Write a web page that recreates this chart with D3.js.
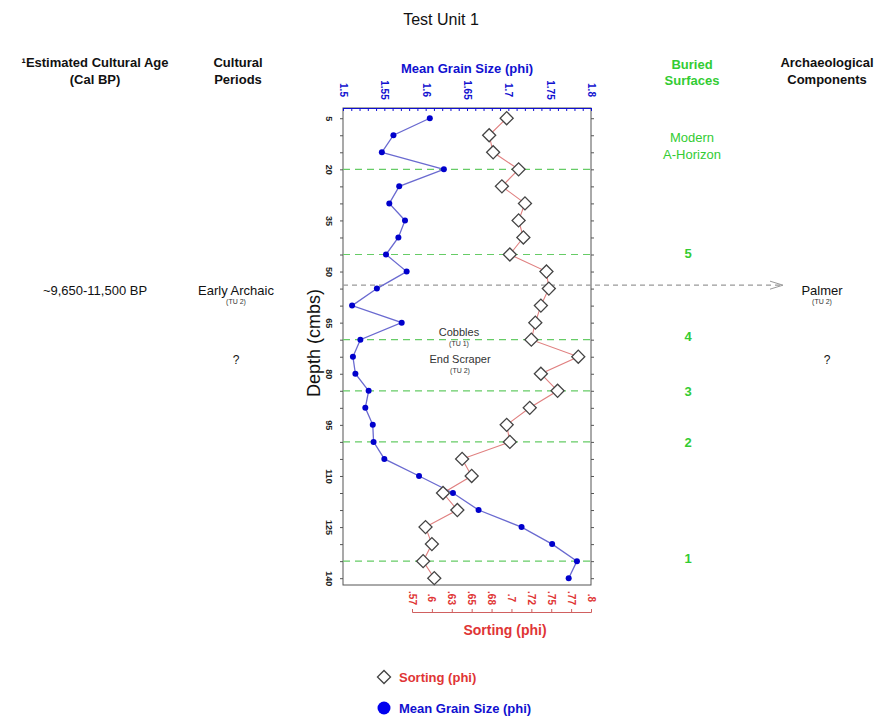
<!DOCTYPE html>
<html>
<head>
<meta charset="utf-8">
<script src="https://cdn.jsdelivr.net/npm/d3@7"></script>
<style>
  body { margin: 0; background: #fff; }
  svg { font-family: "Liberation Sans", Arial, sans-serif; }
</style>
</head>
<body>
<div id="chart"></div>
<script>
// depth of each sample (cmbs)
var depths = [5, 10, 15, 20, 25, 30, 35, 40, 45, 50, 55, 60, 65, 70,
              75, 80, 85, 90, 95, 100, 105, 110, 115, 120, 125, 130, 135, 140];
// mean grain size (phi)
var meanGrain = [1.605, 1.561, 1.547, 1.622, 1.568, 1.556, 1.575, 1.567, 1.552, 1.577, 1.541, 1.511, 1.571, 1.521,
                 1.512, 1.515, 1.531, 1.527, 1.536, 1.537, 1.550, 1.592, 1.633, 1.664, 1.716, 1.753, 1.783, 1.773];
// sorting (phi)
var sorting = [0.694, 0.672, 0.677, 0.709, 0.688, 0.717, 0.709, 0.715, 0.698, 0.744, 0.747, 0.737, 0.730, 0.725,
               0.784, 0.737, 0.758, 0.723, 0.694, 0.698, 0.638, 0.650, 0.614, 0.632, 0.592, 0.600, 0.589, 0.603];

var meanTicks = [1.5, 1.55, 1.6, 1.65, 1.7, 1.75, 1.8];
var meanTickLabels = ["1.5", "1.55", "1.6", "1.65", "1.7", "1.75", "1.8"];
var sortTicks = [0.575, 0.6, 0.625, 0.65, 0.675, 0.7, 0.725, 0.75, 0.775, 0.8];
var sortTickLabels = [".57", ".6", ".63", ".65", ".68", ".7", ".72", ".75", ".77", ".8"];
var depthTicks = [5, 20, 35, 50, 65, 80, 95, 110, 125, 140];

// buried surfaces (depth of dashed line, label)
var surfaceDepths = [20, 45, 70, 85, 100, 135];
var surfaceLabels = ["5", "4", "3", "2", "1"];
var surfaceLabelDepths = [45.5, 70, 86, 101, 135];
var componentDepth = 54;

var W = 882, H = 717;
var blue = "#1010d0", red = "#e03535", green = "#33cc33";

var svg = d3.select("#chart").append("svg")
    .attr("width", W).attr("height", H);

var y = d3.scaleLinear().domain([2, 142]).range([108, 585]);
var xMean = d3.scaleLinear().domain([1.5, 1.8]).range([343, 591]);
var xSort = d3.scaleLinear().domain([0.575, 0.8]).range([412, 591]);

// frame
svg.append("rect")
    .attr("x", 343).attr("y", 108)
    .attr("width", 248).attr("height", 477)
    .attr("fill", "none").attr("stroke", "#555").attr("stroke-width", 1);

// top axis (mean grain size)
var topMinor = svg.append("g")
    .attr("transform", "translate(0,108)")
    .call(d3.axisBottom(xMean).ticks(30).tickSize(3).tickFormat(""));
topMinor.select(".domain").attr("stroke", blue);
topMinor.selectAll(".tick line").attr("stroke", blue);

var topAxis = svg.append("g")
    .attr("transform", "translate(0,108)")
    .call(d3.axisTop(xMean).tickValues(meanTicks).tickSize(0)
        .tickFormat((d, i) => meanTickLabels[i]));
topAxis.select(".domain").remove();
topAxis.selectAll("text")
    .attr("transform", "rotate(90)")
    .attr("x", -18).attr("y", 0).attr("dy", "0.35em")
    .style("text-anchor", "middle")
    .attr("fill", blue).attr("font-weight", "bold").attr("font-size", 10);

// left axis (depth)
var leftMinor = svg.append("g")
    .attr("transform", "translate(343,0)")
    .call(d3.axisLeft(y).tickValues(depths).tickSize(3).tickFormat(""));
leftMinor.select(".domain").remove();
leftMinor.selectAll(".tick line").attr("stroke", "#555");

var leftAxis = svg.append("g")
    .attr("transform", "translate(343,0)")
    .call(d3.axisLeft(y).tickValues(depthTicks).tickSize(0));
leftAxis.select(".domain").remove();
leftAxis.selectAll("text")
    .attr("transform", "rotate(90)")
    .attr("x", 0).attr("y", 14).attr("dy", "0.35em")
    .style("text-anchor", "middle")
    .attr("fill", "#222").attr("font-weight", "bold").attr("font-size", 9);

// right side ticks
var rightMinor = svg.append("g")
    .attr("transform", "translate(591,0)")
    .call(d3.axisRight(y).tickValues(depths).tickSize(3).tickFormat(""));
rightMinor.select(".domain").remove();
rightMinor.selectAll(".tick line").attr("stroke", "#555");

// bottom axis (sorting)
var bottomAxis = svg.append("g")
    .attr("transform", "translate(0,612)")
    .call(d3.axisTop(xSort).tickValues(sortTicks).tickSize(3).tickFormat(""));
bottomAxis.select(".domain").attr("stroke", "#d06060");
bottomAxis.selectAll(".tick line").attr("stroke", "#d06060");

svg.append("g").selectAll("text")
    .data(sortTicks)
    .enter().append("text")
    .attr("transform", (d) => "translate(" + xSort(d) + ",598) rotate(90)")
    .attr("dy", "0.35em")
    .attr("text-anchor", "middle")
    .attr("fill", red).attr("font-weight", "bold").attr("font-size", 10)
    .text((d, i) => sortTickLabels[i]);

// buried surface lines
svg.append("g").selectAll("line")
    .data(surfaceDepths)
    .enter().append("line")
    .attr("x1", 343).attr("x2", 591)
    .attr("y1", (d) => y(d)).attr("y2", (d) => y(d))
    .attr("stroke", "#66cc66").attr("stroke-width", 1.2)
    .attr("stroke-dasharray", "7,5");

// component line with arrow
svg.append("line")
    .attr("x1", 343).attr("x2", 782)
    .attr("y1", y(componentDepth)).attr("y2", y(componentDepth))
    .attr("stroke", "#999").attr("stroke-width", 1.2)
    .attr("stroke-dasharray", "5,4");
svg.append("path")
    .attr("d", "M" + 770 + "," + (y(componentDepth) - 4) + " L" + 783 + "," + y(componentDepth) +
        " L" + 770 + "," + (y(componentDepth) + 4))
    .attr("fill", "none").attr("stroke", "#999").attr("stroke-width", 1);

// mean grain size series
var meanLine = d3.line()
    .x((d, i) => xMean(meanGrain[i]))
    .y((d) => y(d));
svg.append("path")
    .datum(depths)
    .attr("d", meanLine)
    .attr("fill", "none").attr("stroke", "#6a6ad0").attr("stroke-width", 1.3);
svg.append("g").selectAll("circle")
    .data(depths)
    .enter().append("circle")
    .attr("cx", (d, i) => xMean(meanGrain[i]))
    .attr("cy", (d) => y(d))
    .attr("r", 3)
    .attr("fill", "#0000cc");

// sorting series
var sortLine = d3.line()
    .x((d, i) => xSort(sorting[i]))
    .y((d) => y(d));
svg.append("path")
    .datum(depths)
    .attr("d", sortLine)
    .attr("fill", "none").attr("stroke", "#e08080").attr("stroke-width", 1.1);
var diamond = d3.symbol().type(d3.symbolSquare).size(85);
svg.append("g").selectAll("path")
    .data(depths)
    .enter().append("path")
    .attr("d", diamond)
    .attr("transform", (d, i) => "translate(" + xSort(sorting[i]) + "," + y(d) + ") rotate(45)")
    .attr("fill", "#fff").attr("stroke", "#444").attr("stroke-width", 1.3);

// text helper
function label(x, yy, txt, size, color, weight, anchor) {
    return svg.append("text")
        .attr("x", x).attr("y", yy)
        .attr("text-anchor", anchor || "middle")
        .attr("font-size", size)
        .attr("fill", color || "#111")
        .attr("font-weight", weight || "normal")
        .text(txt);
}

label(441, 25, "Test Unit 1", 16, "#111");

label(95, 67, "¹Estimated Cultural Age", 13, "#111", "bold");
label(95, 84, "(Cal BP)", 13, "#111", "bold");
label(238, 67, "Cultural", 13, "#111", "bold");
label(238, 84, "Periods", 13, "#111", "bold");
label(467, 73, "Mean Grain Size (phi)", 13, blue, "bold");
label(692, 69, "Buried", 13, green, "bold");
label(692, 85, "Surfaces", 13, green, "bold");
label(827, 67, "Archaeological", 13, "#111", "bold");
label(827, 84, "Components", 13, "#111", "bold");

label(692, 142, "Modern", 13, green);
label(692, 159, "A-Horizon", 13, green);

surfaceLabels.forEach(function (s, i) {
    label(688, y(surfaceLabelDepths[i]) + 1.5, s, 13, green, "bold");
});

label(95, 295, "~9,650-11,500 BP", 13, "#111");
label(236, 295, "Early Archaic", 13, "#111");
label(236, 304, "(TU 2)", 7, "#333");
label(822, 295, "Palmer", 13, "#111");
label(822, 304, "(TU 2)", 7, "#333");
label(236, 364, "?", 12, "#111");
label(827, 364, "?", 12, "#111");

label(459, 336, "Cobbles", 11, "#333");
label(459, 346, "(TU 1)", 7, "#333");
label(460, 363, "End Scraper", 11, "#333");
label(460, 373, "(TU 2)", 7, "#333");

svg.append("text")
    .attr("transform", "translate(320,343) rotate(-90)")
    .attr("text-anchor", "middle")
    .attr("font-size", 18).attr("fill", "#111")
    .text("Depth (cmbs)");

label(505, 635, "Sorting (phi)", 14, red, "bold");

// legend
svg.append("path")
    .attr("d", diamond)
    .attr("transform", "translate(384,677) rotate(45)")
    .attr("fill", "#fff").attr("stroke", "#444").attr("stroke-width", 1.3);
label(399, 682, "Sorting (phi)", 13, red, "bold", "start");
svg.append("circle")
    .attr("cx", 384).attr("cy", 708).attr("r", 6.5)
    .attr("fill", "#0000ee");
label(399, 713, "Mean Grain Size (phi)", 13, blue, "bold", "start");
</script>
</body>
</html>
